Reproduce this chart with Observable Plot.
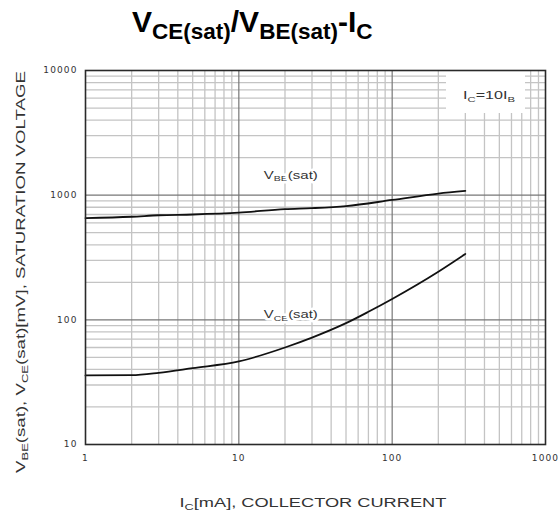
<!DOCTYPE html>
<html><head><meta charset="utf-8">
<script src="https://cdn.jsdelivr.net/npm/d3@7"></script>
<script src="https://cdn.jsdelivr.net/npm/@observablehq/plot@0.6"></script>
<style>
body{margin:0;background:#fff;}
#wrap{position:relative;width:559px;height:520px;overflow:hidden;background:#fff;}
#title{position:absolute;left:132px;top:7px;font:bold 30px "Liberation Sans",Arial,sans-serif;line-height:29px;white-space:nowrap;color:#000;}
#title .s{font-size:22.5px;position:relative;top:7px;}
#chart{position:absolute;left:0;top:55px;}
</style></head>
<body>
<div id="wrap">
<div id="title">V<span class="s">CE(sat)</span>/V<span class="s">BE(sat)</span>-I<span class="s">C</span></div>
<div id="chart"></div>
</div>
<script>
// ---- data ----
const icTicks = [1, 10, 100, 1000];
const vTicks = [10, 100, 1000, 10000];
const icVbe = [1, 2, 3, 5, 10, 20, 30, 50, 100, 200, 300];
const vbe = [655, 671, 690, 700, 724, 773, 787, 817, 915, 1030, 1082];
const icVce = [1, 2, 3, 5, 10, 20, 30, 50, 70, 100, 200, 300];
const vce = [35.8, 36, 37.6, 41, 46.4, 60, 72, 94, 116, 147, 243, 337];
const curveLabels = [
  {name: "vbe", parts: [["V"], ["BE", true], ["(sat)"]], x: 22, y: 1450},
  {name: "vce", parts: [["V"], ["CE", true], ["(sat)"]], x: 22, y: 110}
];
const noteParts = [["I"], ["C", true], ["=10I"], ["B", true]];
const xLabelParts = [["I"], ["C", true], ["[mA], COLLECTOR CURRENT"]];
const yLabelParts = [["V"], ["BE", true], ["(sat), V"], ["CE", true], ["(sat)[mV], SATURATION VOLTAGE"]];

const minorOf = ticks => ticks.slice(0, -1).flatMap(d => d3.range(2, 10).map(m => d * m));
const xMinor = minorOf(icTicks);
const yMinor = minorOf(vTicks);
const vbeData = icVbe.map((x, i) => ({x, y: vbe[i]}));
const vceData = icVce.map((x, i) => ({x, y: vce[i]}));

const plot = Plot.plot({
  width: 559, height: 465,
  marginTop: 15, marginBottom: 76, marginLeft: 85, marginRight: 14,
  style: {fontFamily: "DejaVu Sans, sans-serif", fontSize: "9px", color: "#333", letterSpacing: "1.1px", background: "#fff"},
  x: {type: "log", domain: [1, 1000], ticks: icTicks, tickFormat: d => String(d), tickSize: 0, tickPadding: 10, label: null},
  y: {type: "log", domain: [10, 10000], ticks: vTicks, tickFormat: d => String(d), tickSize: 0, tickPadding: 8, label: null},
  marks: [
    Plot.ruleX(xMinor, {stroke: "#c4c4c4", strokeWidth: 1.3}),
    Plot.ruleY(yMinor, {stroke: "#c4c4c4", strokeWidth: 1.3}),
    Plot.ruleX(icTicks.slice(1, -1), {stroke: "#777", strokeWidth: 1.2}),
    Plot.ruleY(vTicks.slice(1, -1), {stroke: "#777", strokeWidth: 1.2}),
    Plot.line(vbeData, {x: "x", y: "y", stroke: "#111", strokeWidth: 1.8, curve: "monotone-x", className: "curve"}),
    Plot.line(vceData, {x: "x", y: "y", stroke: "#111", strokeWidth: 1.8, curve: "monotone-x", className: "curve"}),
    Plot.frame({stroke: "#2a2a2a", strokeWidth: 1.6, className: "frm"})
  ]
});
document.getElementById("chart").appendChild(plot);

const sx = plot.scale("x"), sy = plot.scale("y");
const NS = "http://www.w3.org/2000/svg";

function richText(parent, parts, o) {
  const size = o.size;
  const t = document.createElementNS(NS, "text");
  t.setAttribute("font-family", o.family || "Liberation Sans, Arial, sans-serif");
  t.setAttribute("font-size", size);
  t.setAttribute("fill", o.fill || "#333");
  t.setAttribute("text-anchor", "start");
  if (o.weight) t.setAttribute("font-weight", o.weight);
  t.style.letterSpacing = "0px";
  let shifted = false;
  for (const [str, sub] of parts) {
    const ts = document.createElementNS(NS, "tspan");
    ts.textContent = str;
    if (sub) { ts.setAttribute("font-size", size * 0.7); if (!shifted) { ts.setAttribute("dy", size * 0.25); shifted = true; } }
    else if (shifted) { ts.setAttribute("dy", -size * 0.25); shifted = false; }
    t.appendChild(ts);
  }
  if (o.halo) { t.setAttribute("stroke", "#fff"); t.setAttribute("stroke-width", o.halo); t.setAttribute("paint-order", "stroke"); t.setAttribute("stroke-linejoin", "round"); }
  if (o.before) parent.insertBefore(t, o.before); else parent.appendChild(t);
  const w = t.getComputedTextLength();
  const k = o.width ? o.width / w : 1;
  const a = o.anchor === "middle" ? 0.5 : o.anchor === "end" ? 1 : 0;
  t.setAttribute("transform", `translate(${o.x},${o.y}) rotate(${o.rotate || 0}) scale(${k},1) translate(${-w * a},0)`);
  return t;
}

const node = plot;
const frameEl = node.querySelector(".frm") || null;
const [x0, x1] = sx.range, [y0, y1] = sy.range; // y0 bottom, y1 top

// curve labels with white halo
for (const L of curveLabels) {
  richText(node, L.parts, {x: sx.apply(L.x), y: sy.apply(L.y) + 4, size: 11, anchor: "middle", width: 54, halo: 5, fill: "#333", before: frameEl});
}

// note box
const noteW = 52;
const noteText = richText(node, noteParts, {x: x1 - 30, y: y1 + 29, size: 10.5, anchor: "end", width: noteW, fill: "#333"});
const rect = document.createElementNS(NS, "rect");
const nx = x1 - 30 - noteW;
rect.setAttribute("x", nx - 17);
rect.setAttribute("y", y1);
rect.setAttribute("width", (x1 - 20) - (nx - 17));
rect.setAttribute("height", 43);
rect.setAttribute("fill", "#fff");
node.insertBefore(rect, frameEl);
node.appendChild(noteText);

// axis titles
richText(node, xLabelParts, {x: (x0 + x1) / 2 - 2, y: y0 + 63, size: 13, anchor: "middle", width: 267, fill: "#333"});
richText(node, yLabelParts, {x: 25, y: 217, size: 12, anchor: "middle", width: 402, rotate: -90, fill: "#333"});
</script>
</body></html>
